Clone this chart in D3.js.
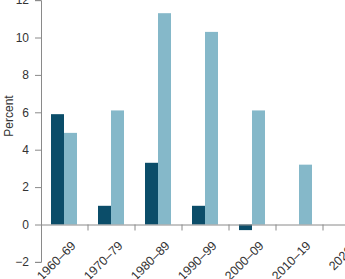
<!DOCTYPE html>
<html>
<head>
<meta charset="utf-8">
<script src="https://cdn.jsdelivr.net/npm/d3@7"></script>
<style>
  body { margin: 0; background: #fff; }
  svg { display: block; font-family: "Liberation Sans", Arial, sans-serif; }
</style>
</head>
<body>
<svg id="vis" width="345" height="279"></svg>
<script>
const width = 345;
const height = 279;

// data
const decades = ["1960–69", "1970–79", "1980–89", "1990–99", "2000–09", "2010–19", "2020–"];
const seriesNames = ["dark", "light"];
const darkValues = [5.9, 1.0, 3.3, 1.0, -0.3, null, null];
const lightValues = [4.9, 6.1, 11.3, 10.3, 6.1, 3.2, null];
const yTicks = [-2, 0, 2, 4, 6, 8, 10, 12];
const colours = ["#0b4d69", "#85b8c9"];

const svg = d3.select("#vis");

const x = d3.scaleBand()
  .domain(decades)
  .range([41, 41 + 47 * decades.length]);

const xInner = d3.scaleBand()
  .domain(seriesNames)
  .range([10, 36]);

const y = d3.scaleLinear()
  .domain([-2, 12])
  .range([261.9, 0.1]);

const colourScale = d3.scaleOrdinal(seriesNames, colours);

const rows = decades.map((d, i) => ({
  decade: d,
  values: [
    { key: "dark", value: darkValues[i] },
    { key: "light", value: lightValues[i] }
  ]
}));

// bars
svg.append("g")
  .selectAll("g")
  .data(rows)
  .join("g")
  .attr("transform", d => `translate(${x(d.decade)},0)`)
  .selectAll("rect")
  .data(d => d.values.filter(v => v.value !== null))
  .join("rect")
  .attr("x", d => xInner(d.key))
  .attr("width", xInner.bandwidth())
  .attr("y", d => y(Math.max(0, d.value)))
  .attr("height", d => Math.abs(y(d.value) - y(0)))
  .attr("fill", d => colourScale(d.key));

// y axis
const yAxis = svg.append("g")
  .attr("transform", "translate(41,0)")
  .call(d3.axisLeft(y).tickValues(yTicks).tickSize(6).tickPadding(6)
    .tickFormat(d => d < 0 ? "−" + Math.abs(d) : d));
yAxis.select(".domain").attr("stroke", "#8a8a8a");
yAxis.selectAll(".tick line").attr("stroke", "#8a8a8a");
yAxis.selectAll(".tick text")
  .attr("fill", "#333")
  .style("font-size", "12px");

// zero line with decade ticks
const xAxis = svg.append("g")
  .attr("transform", `translate(0,${y(0)})`)
  .call(d3.axisBottom(x).tickSize(6).tickSizeOuter(0).tickFormat(""));
xAxis.select(".domain").attr("stroke", "#8a8a8a");
xAxis.selectAll(".tick line")
  .attr("stroke", "#8a8a8a")
  .attr("transform", `translate(${x.bandwidth() / 2},0)`);

xAxis.selectAll(".tick")
  .append("text")
  .attr("fill", "#333")
  .style("font-size", "12.5px")
  .attr("text-anchor", "end")
  .attr("transform", "translate(12,22) rotate(-45)")
  .text(d => d);

// axis title
svg.append("text")
  .attr("transform", "translate(13,116) rotate(-90)")
  .attr("text-anchor", "middle")
  .attr("fill", "#333")
  .style("font-size", "12px")
  .text("Percent");
</script>
</body>
</html>
